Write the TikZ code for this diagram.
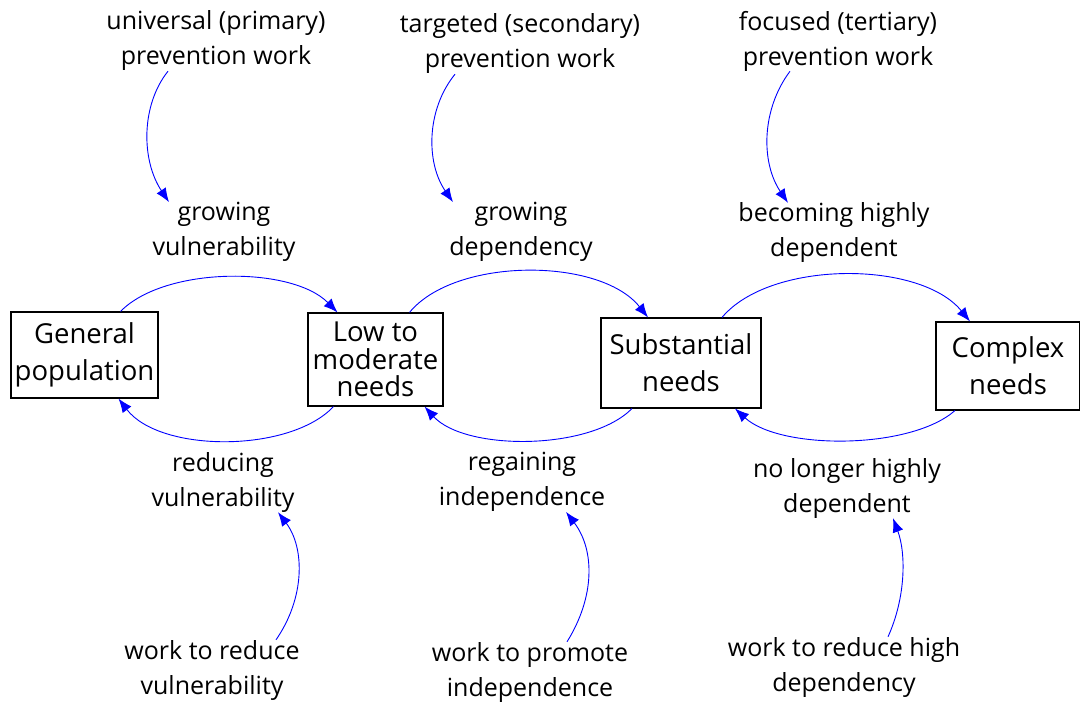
\documentclass[tikz,border=0pt]{standalone}
\usepackage{fontspec}
\setmainfont{Open Sans}
\usetikzlibrary{arrows.meta,positioning}
\tikzstyle{stock}=[draw, line width=1.1pt, align=center, inner sep=2pt,
  font=\fontsize{27.5}{37}\selectfont]
\tikzstyle{lbl}=[align=center, inner sep=0pt]
\tikzstyle{flow}=[-{Latex[length=14pt,width=11pt]}, blue, line width=0.9pt]

\begin{document}
\begin{tikzpicture}[x=1pt, y=-1pt, font=\fontsize{25}{35}\selectfont]
  \useasboundingbox (0,0) rectangle (1080,702);

  % stocks
  \node[stock, minimum width=147, minimum height=86] (gen) at (84.5,355)
    {General\\population};
  \node[stock, minimum width=135, minimum height=93,
    font=\fontsize{27.5}{27.5}\selectfont] (low) at (375.5,359.5)
    {Low to\\moderate\\needs};
  \node[stock, minimum width=160, minimum height=90] (sub) at (681,363)
    {Substantial\\needs};
  \node[stock, minimum width=144, minimum height=88] (cpx) at (1008,366)
    {Complex\\needs};

  % labels
  \node[lbl] (uprim) at (216,41) {universal (primary)\\prevention work};
  \node[lbl] (usec)  at (520,44) {targeted (secondary)\\prevention work};
  \node[lbl] (uter)  at (838,41) {focused (tertiary)\\prevention work};
  \node[lbl] (grvul) at (224,232) {growing\\vulnerability};
  \node[lbl] (grdep) at (521,232) {growing\\dependency};
  \node[lbl] (bhd)   at (834,233) {becoming highly\\dependent};
  \node[lbl] (redvul) at (223,482) {reducing\\vulnerability};
  \node[lbl] (regind) at (522,482) {regaining\\independence};
  \node[lbl] (nlhd)   at (847,488) {no longer highly\\dependent};
  \node[lbl] (wvul) at (212,670) {work to reduce\\vulnerability};
  \node[lbl] (wind) at (530,672) {work to promote\\independence};
  \node[lbl] (wdep) at (844,667) {work to reduce high\\dependency};

  % flows between stocks
  \draw[flow] ([xshift=36pt]gen.north) .. controls (165,266) and (292,266)
    .. ([xshift=-38pt]low.north);
  \draw[flow] ([xshift=34pt]low.north) .. controls (455,257) and (600,257)
    .. ([xshift=-33pt]sub.north);
  \draw[flow] ([xshift=41pt]sub.north) .. controls (770,260) and (920,260)
    .. ([xshift=-38pt]cpx.north);
  \draw[flow] ([xshift=-42pt]low.south) .. controls (290,453) and (160,453)
    .. ([xshift=34pt]gen.south);
  \draw[flow] ([xshift=-49pt]sub.south) .. controls (590,451) and (465,451)
    .. ([xshift=49pt]low.south);
  \draw[flow] ([xshift=-53pt]cpx.south) .. controls (910,450) and (780,450)
    .. ([xshift=54pt]sub.south);

  % influences
  \draw[flow] ([xshift=-48pt]uprim.south) .. controls (141,105) and (141,160)
    .. ([xshift=-55pt]grvul.north);
  \draw[flow] ([xshift=-65pt]usec.south) .. controls (426,110) and (426,163)
    .. ([xshift=-68pt]grdep.north);
  \draw[flow] ([xshift=-48pt]uter.south) .. controls (761,110) and (761,163)
    .. ([xshift=-46pt]bhd.north);
  \draw[flow] ([xshift=64pt]wvul.north) .. controls (305,598) and (305,548)
    .. ([xshift=55pt]redvul.south);
  \draw[flow] ([xshift=37pt]wind.north) .. controls (595,597) and (595,550)
    .. ([xshift=44pt]regind.south);
  \draw[flow] ([xshift=44pt]wdep.north) .. controls (906,597) and (906,553)
    .. ([xshift=46pt]nlhd.south);
\end{tikzpicture}
\end{document}
